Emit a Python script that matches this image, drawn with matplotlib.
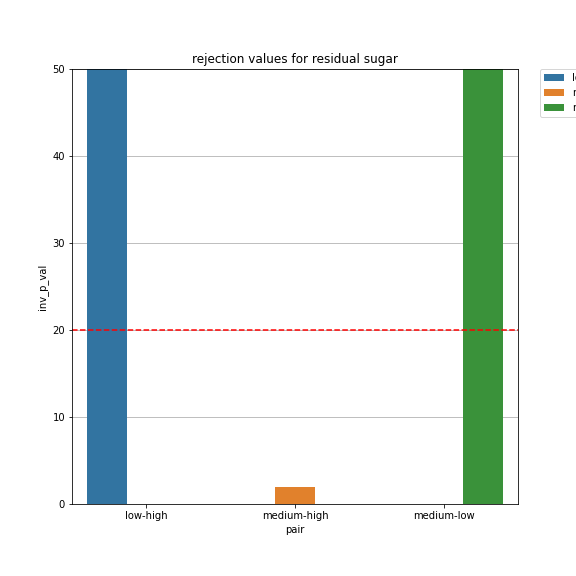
import matplotlib
matplotlib.use("Agg")
import matplotlib.pyplot as plt
import numpy as np

pairs = ["low-high", "medium-high", "medium-low"]
inv_p_val = [60.0, 2.0, 60.0]
colors = ["#3274a1", "#e1812c", "#3a923a"]
threshold = 20

fig = plt.figure(figsize=(8, 8), dpi=72)
ax = fig.add_axes([72 / 576, 72 / 576, 446 / 576, 435 / 576])
n = len(pairs)
w = 0.8 / n
for i, (p, v, c) in enumerate(zip(pairs, inv_p_val, colors)):
    x = i + (i - (n - 1) / 2) * w
    ax.bar(x, v, width=w, color=c, label=p)
ax.set_xticks(range(n))
ax.set_xticklabels(pairs)
ax.set_xlim(-0.5, n - 0.5)
ax.set_ylim(0, 50)
ax.yaxis.grid(True, color="#b0b0b0")
ax.set_axisbelow(True)
ax.axhline(threshold, color="red", linestyle="--")
ax.set_xlabel("pair")
ax.set_ylabel("inv_p_val")
ax.set_title("rejection values for residual sugar")
ax.legend(bbox_to_anchor=(1.05, 1), loc="upper left", borderaxespad=0)
fig.savefig("out.png", dpi=72)
